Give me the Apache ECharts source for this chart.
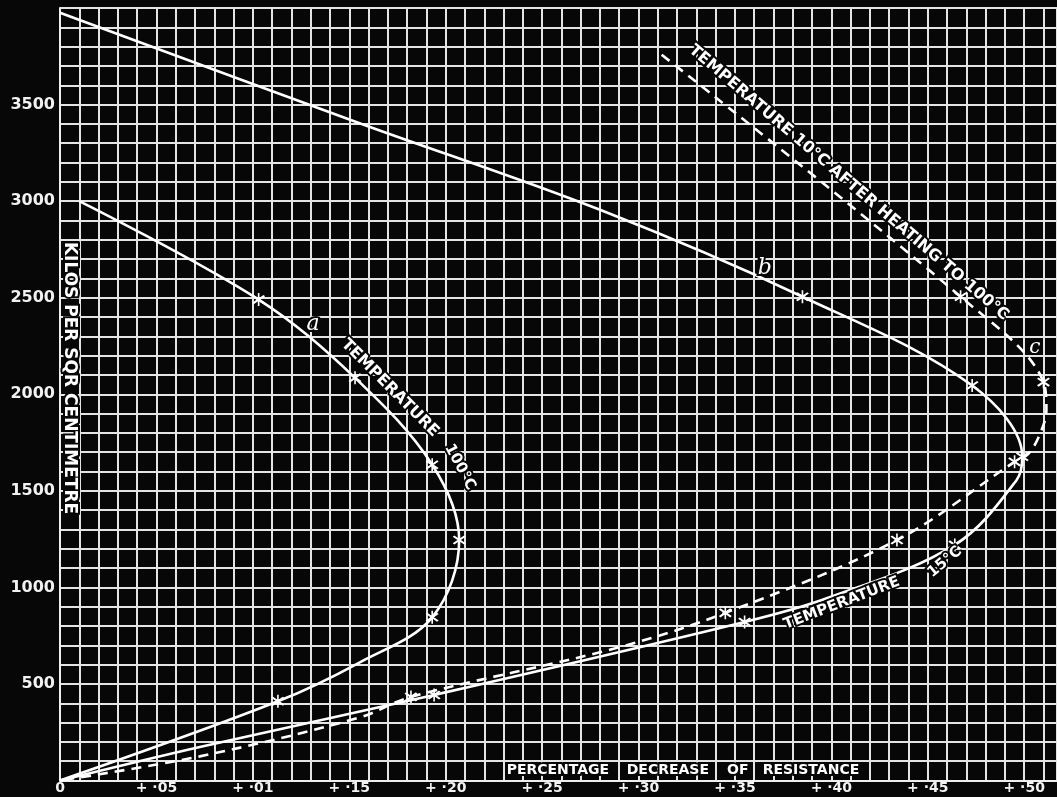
<!DOCTYPE html>
<html>
<head>
<meta charset="utf-8">
<script src="https://cdn.jsdelivr.net/npm/echarts@6/dist/echarts.min.js"></script>
<style>
  html, body { margin: 0; padding: 0; background: #070707; }
  #chart { width: 1057px; height: 797px; }
</style>
</head>
<body>
<div id="chart"></div>
<script>
// Percentage decrease of resistance (x) against load in kilos per sq. centimetre (y).
// "Star" flags mark the measured readings; the other points trace the drawn curve.

// a — temperature 100°C
const aPct  = [0.010, 0.103, 0.153, 0.193, 0.207, 0.193, 0.1555, 0.113, 0.000];
const aLoad = [3000, 2490, 2085, 1635, 1245, 845, 612, 410, 0];
const aStar = [0, 1, 1, 1, 1, 1, 0, 1, 0];

// b — temperature 15°C
const bPct  = [0.000, 0.155, 0.280, 0.385, 0.473, 0.499, 0.496, 0.464, 0.398, 0.355, 0.194, 0.0725, 0.000];
const bLoad = [3975, 3405, 2955, 2505, 2045, 1676, 1555, 1220, 945, 821, 443, 174, 0];
const bStar = [0, 0, 0, 1, 1, 1, 0, 1, 0, 1, 1, 0, 0];

// c — temperature 10°C after heating to 100°C
const cPct  = [0.312, 0.467, 0.510, 0.5115, 0.508, 0.502, 0.495, 0.434, 0.345, 0.288, 0.182, 0.155, 0.0725, 0.000];
const cLoad = [3758, 2505, 2063, 1920, 1790, 1690, 1650, 1245, 868, 685, 433, 325, 125, 0];
const cStar = [0, 1, 1, 0, 0, 0, 1, 1, 1, 0, 1, 0, 0, 0];

// Tick labels, as printed on the sheet (every fifth grid line)
const pctTickLabels  = ['0', '+ ·05', '+ ·01', '+ ·15', '+ ·20', '+ ·25', '+ ·30', '+ ·35', '+ ·40', '+ ·45', '+ ·50'];
const loadTickLabels = ['', '500', '1000', '1500', '2000', '2500', '3000', '3500', ''];

const xTitleWords = ['PERCENTAGE', 'DECREASE', 'OF', 'RESISTANCE'];
const yTitle = 'KILOS PER SQR CENTIMETRE';

// Six-armed asterisk used for the readings
const STAR = 'path://M9,0 L11,0 L11,20 L9,20 Z M2,5 L4,3 L18,15 L16,17 Z M16,3 L18,5 L4,17 L2,15 Z';

function curveData(px, py, star) {
  return px.map((x, i) => ({
    value: [x, py[i]],
    symbol: star[i] ? STAR : 'none'
  }));
}

function curveSeries(name, px, py, star, dashed) {
  return {
    name: name,
    type: 'line',
    smooth: 0.35,
    showAllSymbol: true,
    symbolSize: 13,
    itemStyle: { color: '#ffffff' },
    lineStyle: { color: '#ffffff', width: 2.6, type: dashed ? [10, 7] : 'solid' },
    data: curveData(px, py, star),
    z: 5
  };
}

const chart = echarts.init(document.getElementById('chart'), null, { renderer: 'canvas' });

const gridLine = { show: true, lineStyle: { color: '#e4e4e4', width: 2 } };
const font = '"DejaVu Sans", "Liberation Sans", sans-serif';

chart.setOption({
  animation: false,
  backgroundColor: '#070707',
  grid: { left: 60, right: 0, top: 8, bottom: 16.5, containLabel: false },
  xAxis: {
    type: 'value',
    min: 0,
    max: 0.517,
    interval: 0.01,
    axisLine: { show: true, lineStyle: { color: '#eeeeee', width: 2 } },
    axisTick: { show: false },
    splitLine: gridLine,
    axisLabel: {
      interval: 0,
      showMaxLabel: false,
      margin: 1,
      color: '#f2f2f2',
      fontFamily: font,
      fontWeight: 'bold',
      fontSize: 14,
      formatter: function (v) {
        const k = Math.round(v * 100);
        return k % 5 === 0 ? (pctTickLabels[k / 5] || '') : '';
      }
    }
  },
  yAxis: {
    type: 'value',
    min: 0,
    max: 4000,
    interval: 100,
    axisLine: { show: true, lineStyle: { color: '#eeeeee', width: 2 } },
    axisTick: { show: false },
    splitLine: gridLine,
    axisLabel: {
      interval: 0,
      margin: 5,
      color: '#f2f2f2',
      fontFamily: font,
      fontWeight: 'bold',
      fontSize: 16,
      formatter: function (v) {
        const k = Math.round(v);
        return k % 500 === 0 ? (loadTickLabels[k / 500] || '') : '';
      }
    }
  },
  series: [
    curveSeries('a', aPct, aLoad, aStar, false),
    curveSeries('b', bPct, bLoad, bStar, false),
    curveSeries('c', cPct, cLoad, cStar, true)
  ]
});

// Lettering on the sheet, placed in data coordinates
const deg = Math.PI / 180;
const notes = [
  { text: 'a', at: [0.1312, 2360], rot: 0, font: 'italic 22px "DejaVu Serif", serif' },
  { text: 'TEMPERATURE', at: [0.1711, 2032], rot: -45, font: 'bold 16px ' + font },
  { text: '100°C', at: [0.2074, 1623], rot: -62, font: 'bold 15px ' + font },
  { text: 'b', at: [0.3655, 2654], rot: 0, font: 'italic 22px "DejaVu Serif", serif' },
  { text: 'TEMPERATURE', at: [0.4054, 918], rot: 21, font: 'bold 15px ' + font },
  { text: '15°C', at: [0.4588, 1131], rot: 40, font: 'bold 15px ' + font },
  { text: 'TEMPERATURE 10°C AFTER HEATING TO 100°C', at: [0.409, 3095], rot: -40.5, font: 'bold 16px ' + font },
  { text: 'c', at: [0.5055, 2240], rot: 0, font: 'italic 20px "DejaVu Serif", serif' },
  { text: yTitle, at: [0.0047, 2084], rot: -90, font: 'bold 17px ' + font }
];
const titleAt = [0.2582, 0.3152, 0.3515, 0.3894];
xTitleWords.forEach((w, i) => notes.push({ text: w, at: [titleAt[i], 54], rot: 0, font: 'bold 14px ' + font }));

const graphic = notes.map(n => {
  const p = chart.convertToPixel({ gridIndex: 0 }, n.at);
  return {
    type: 'text',
    x: p[0],
    y: p[1],
    rotation: n.rot * deg,
    z: 10,
    style: {
      text: n.text,
      font: n.font,
      fill: '#ffffff',
      stroke: '#070707',
      lineWidth: 4,
      strokeFirst: true,
      align: 'center',
      verticalAlign: 'middle'
    }
  };
});
chart.setOption({ graphic: graphic });
</script>
</body>
</html>
